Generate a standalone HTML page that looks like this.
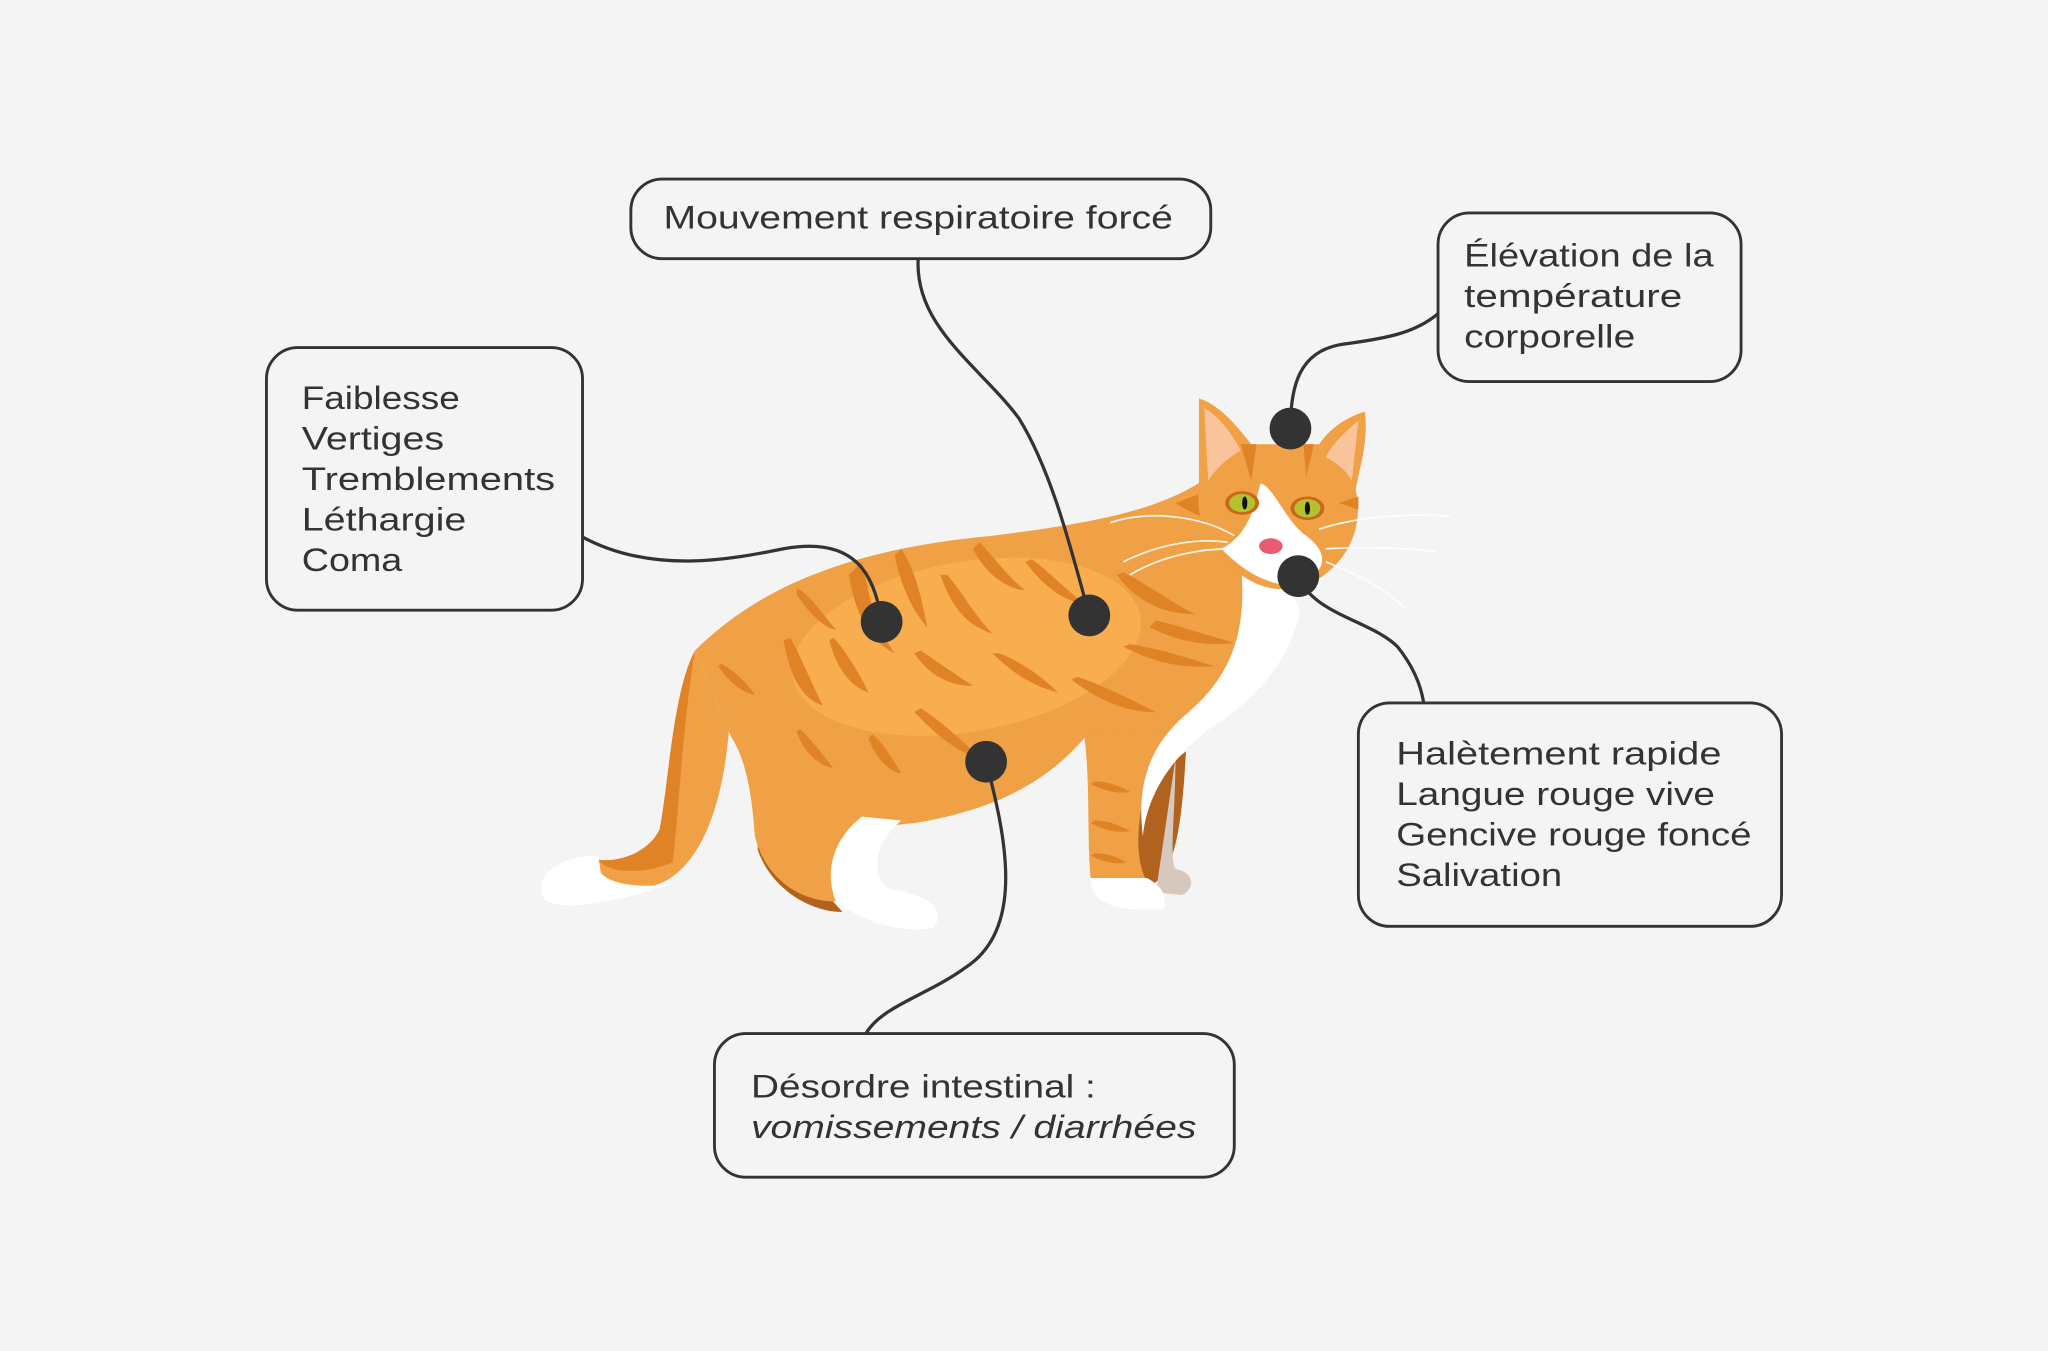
<!DOCTYPE html>
<html><head><meta charset="utf-8"><style>
html,body{margin:0;padding:0;background:#f4f4f4;}
svg{display:block}
text{font-family:"Liberation Sans",sans-serif;fill:#333;font-size:25px;}
</style></head><body>
<svg width="2048" height="1351" viewBox="0 0 1568 1034" preserveAspectRatio="none">
<rect width="1568" height="1034" fill="#f4f4f4"/>
<!-- cat -->
<g>
  <path d="M532,498 C515,530 512,600 505,635 C495,655 470,660 458,658 C455,675 470,680 500,678 C530,670 552,630 558,560 Z" fill="#f0a045"/>
  <path d="M532,498 C515,530 512,600 505,635 C495,655 470,660 458,658 C465,668 490,670 515,660 C520,620 522,560 532,498 Z" fill="#e08226"/>
  <path d="M458,655 C430,655 410,668 415,685 C420,700 470,692 515,676 C495,680 468,678 460,668 Z" fill="#fff"/>
  <path d="M558,560 C575,580 585,610 580,650 C590,680 620,698 645,698 C620,670 600,650 590,620 Z" fill="#b0621e"/>
  <path d="M532,498 C580,450 650,420 760,410 C840,400 890,390 925,365 L965,440 C990,460 995,480 960,520 C920,555 880,590 830,565 C800,600 760,620 700,630 C660,632 640,650 640,690 C610,690 585,670 578,640 C575,600 570,580 558,560 Z" fill="#f0a045"/>
  <ellipse cx="740" cy="495" rx="135" ry="65" fill="#f8ae4e" transform="rotate(-10 740 495)"/>
  <path d="M830,562 C835,600 832,640 835,672 L878,672 C880,630 890,590 900,560 Z" fill="#f0a045"/>
  <path d="M878,600 C870,630 868,660 880,678 C900,670 905,630 908,575 Z" fill="#b0621e"/>
  <path d="M900,580 C900,620 895,660 900,665 C915,668 915,680 905,685 L885,683 Z" fill="#d6c8bc"/>
  <path d="M950,430 C975,440 995,455 995,470 C985,510 960,535 930,555 C895,580 878,610 875,640 C870,600 880,570 910,545 C945,515 955,480 950,430 Z" fill="#fff"/>
  <path d="M835,672 C835,690 850,698 890,696 C895,688 890,678 878,672 Z" fill="#fff"/>
  <path d="M660,625 C640,640 630,665 640,690 C660,705 690,715 715,710 C725,695 710,685 680,680 C665,668 670,645 690,628 Z" fill="#fff"/>
  <g fill="#e08226">
    <path d="M610,455 C620,470 630,480 640,482 C630,470 620,455 610,450Z"/>
    <path d="M650,440 C655,470 665,490 685,500 C670,480 665,455 660,430Z"/>
    <path d="M685,425 C690,450 700,470 710,480 C705,455 700,435 690,420Z"/>
    <path d="M720,440 C730,470 745,480 760,485 C745,470 735,450 725,440Z"/>
    <path d="M745,420 C755,440 770,450 785,452 C770,440 760,425 750,415Z"/>
    <path d="M785,430 C800,450 815,460 830,462 C815,450 800,435 790,428Z"/>
    <path d="M855,440 C870,460 890,470 915,470 C895,460 875,445 860,438Z"/>
    <path d="M880,480 C900,490 920,495 945,492 C920,485 900,478 885,475Z"/>
    <path d="M600,490 C605,520 615,535 630,540 C620,520 612,500 605,488Z"/>
    <path d="M635,490 C640,510 650,525 665,530 C655,510 645,495 638,488Z"/>
    <path d="M700,500 C710,515 725,525 745,525 C730,515 715,505 705,498Z"/>
    <path d="M760,500 C775,515 790,525 810,530 C795,515 778,505 765,500Z"/>
    <path d="M820,520 C840,535 860,545 885,545 C865,535 845,525 825,518Z"/>
    <path d="M860,495 C880,505 900,512 930,510 C905,502 885,496 865,493Z"/>
    <path d="M550,510 C560,525 570,530 578,532 C570,520 560,512 552,508Z"/>
    <path d="M700,545 C715,560 730,575 750,580 C735,565 720,552 705,542Z"/>
    <path d="M610,560 C615,575 625,585 638,588 C628,575 618,562 612,558Z"/>
    <path d="M665,565 C670,580 680,590 690,592 C682,578 675,568 668,562Z"/>
    <path d="M835,600 C845,605 855,608 865,606 C855,600 845,598 838,598Z"/>
    <path d="M835,630 C845,635 855,638 865,636 C855,630 845,628 838,628Z"/>
    <path d="M835,655 C845,660 855,662 862,660 C855,655 845,653 838,653Z"/>
    <path d="M900,385 C915,395 930,400 945,400 L940,370 Z"/>
  </g>
  <path d="M918,305 C935,310 950,330 958,340 L1010,340 C1020,325 1035,318 1045,315 C1048,340 1040,360 1038,375 C1045,405 1030,435 1000,448 C980,455 960,450 940,432 C925,420 915,400 918,370 Z" fill="#f0a045"/>
  <path d="M922,312 C935,320 945,335 950,345 C940,350 930,360 925,368 Z" fill="#f9c49c"/>
  <path d="M1040,322 C1030,330 1020,340 1015,350 C1025,355 1032,362 1035,368 Z" fill="#f9c49c"/>
  <path d="M965,370 C975,372 985,400 1000,410 C1020,425 1015,440 990,448 C965,448 945,430 935,420 C955,410 960,390 965,370Z" fill="#fff"/>
  <g fill="#e08226"><path d="M950,340 L958,368 L962,340Z"/><path d="M998,340 L1000,365 L1006,340Z"/><path d="M1025,385 L1040,380 L1040,390Z"/></g>
  <ellipse cx="951" cy="385" rx="13" ry="9" fill="#c9671a"/><ellipse cx="951" cy="385" rx="10" ry="7" fill="#b5c22c"/><ellipse cx="953" cy="385" rx="2" ry="5" fill="#111"/>
  <ellipse cx="1001" cy="389" rx="13" ry="9" fill="#c9671a"/><ellipse cx="1001" cy="389" rx="10" ry="7" fill="#b5c22c"/><ellipse cx="1001" cy="389" rx="2" ry="5" fill="#111"/>
  <ellipse cx="973" cy="418" rx="9" ry="6" fill="#e85c70"/>
  <g stroke="#fff" stroke-width="1.3" fill="none" opacity="0.9">
    <path d="M850,400 C880,390 920,395 945,410"/><path d="M860,430 C890,415 920,412 940,415"/><path d="M865,440 C890,425 920,420 942,420"/>
    <path d="M1010,405 C1040,395 1080,393 1110,395"/><path d="M1015,420 C1050,418 1080,420 1100,422"/><path d="M1015,430 C1040,440 1060,450 1075,465"/>
  </g>
</g>
<g fill="none" stroke="#333" stroke-width="2.5">
  <path d="M446,411 C500,440 560,428 600,420 C655,410 670,440 675,476"/>
  <path d="M703,198 C700,250 750,280 780,320 C805,360 820,420 834,471"/>
  <path d="M1101,240 C1080,258 1050,260 1025,264 C995,270 988,295 988,328"/>
  <path d="M994,441 C1005,470 1050,475 1070,495 C1082,510 1088,525 1090,538"/>
  <path d="M755,583 C770,640 785,710 740,740 C710,762 675,770 663,791"/>
</g>
<g fill="#333">
  <circle cx="675" cy="476" r="16"/><circle cx="834" cy="471" r="16"/><circle cx="988" cy="328" r="16"/><circle cx="994" cy="441" r="16"/><circle cx="755" cy="583" r="16"/>
</g>
<g fill="#f4f4f4" stroke="#333" stroke-width="2.2">
  <rect x="483" y="137" width="444" height="61" rx="24"/>
  <rect x="1101" y="163" width="232" height="129" rx="24"/>
  <rect x="204" y="266" width="242" height="201" rx="24"/>
  <rect x="1040" y="538" width="324" height="171" rx="24"/>
  <rect x="547" y="791" width="398" height="110" rx="24"/>
</g>
<g lengthAdjust="spacingAndGlyphs">
<text x="508" y="175" textLength="390" lengthAdjust="spacingAndGlyphs">Mouvement respiratoire forcé</text>
<text x="1121" y="204" textLength="191" lengthAdjust="spacingAndGlyphs">Élévation de la</text>
<text x="1121" y="235" textLength="167" lengthAdjust="spacingAndGlyphs">température</text>
<text x="1121" y="266" textLength="131" lengthAdjust="spacingAndGlyphs">corporelle</text>
<text x="231" y="313" textLength="121" lengthAdjust="spacingAndGlyphs">Faiblesse</text>
<text x="231" y="344" textLength="109" lengthAdjust="spacingAndGlyphs">Vertiges</text>
<text x="231" y="375" textLength="194" lengthAdjust="spacingAndGlyphs">Tremblements</text>
<text x="231" y="406" textLength="126" lengthAdjust="spacingAndGlyphs">Léthargie</text>
<text x="231" y="437" textLength="77" lengthAdjust="spacingAndGlyphs">Coma</text>
<text x="1069" y="585" textLength="249" lengthAdjust="spacingAndGlyphs">Halètement rapide</text>
<text x="1069" y="616" textLength="244" lengthAdjust="spacingAndGlyphs">Langue rouge vive</text>
<text x="1069" y="647" textLength="272" lengthAdjust="spacingAndGlyphs">Gencive rouge foncé</text>
<text x="1069" y="678" textLength="127" lengthAdjust="spacingAndGlyphs">Salivation</text>
<text x="575" y="840" textLength="264" lengthAdjust="spacingAndGlyphs">Désordre intestinal :</text>
<text x="575" y="871" font-style="italic" textLength="341" lengthAdjust="spacingAndGlyphs">vomissements / diarrhées</text>
</g>
</svg>
</body></html>
